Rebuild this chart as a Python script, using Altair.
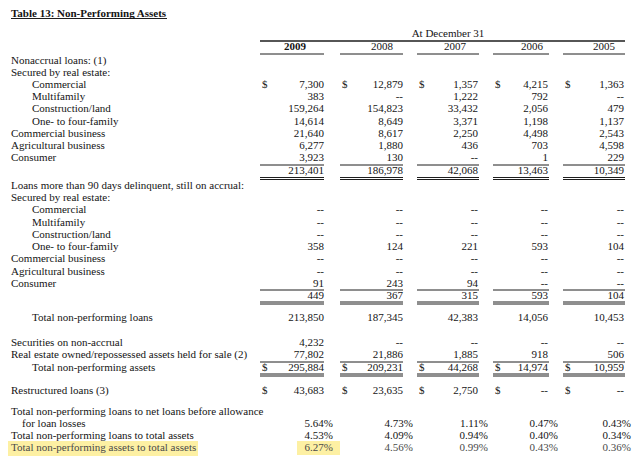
import altair as alt
import pandas as pd

# ---------------- data ----------------
title_text = "Table 13:  Non-Performing Assets"
header_text = "At December 31"
years = ["2009", "2008", "2007", "2006", "2005"]

row_labels = [
    "Nonaccrual loans: (1)",
    "Secured by real estate:",
    "Commercial",
    "Multifamily",
    "Construction/land",
    "One- to four-family",
    "Commercial business",
    "Agricultural business",
    "Consumer",
    "Loans more than 90 days delinquent, still on accrual:",
    "Secured by real estate:",
    "Commercial",
    "Multifamily",
    "Construction/land",
    "One- to four-family",
    "Commercial business",
    "Agricultural business",
    "Consumer",
    "Total non-performing loans",
    "Securities on non-accrual",
    "Real estate owned/repossessed assets held for sale (2)",
    "Total non-performing assets",
    "Restructured loans (3)",
    "Total non-performing loans to net loans before allowance",
    "for loan losses",
    "Total non-performing loans to total assets",
    "Total non-performing assets to total assets",
]

# None = "--"
amt_2009 = [7300, 383, 159264, 14614, 21640, 6277, 3923, 213401,
            None, None, None, 358, None, None, 91, 449,
            213850, 4232, 77802, 295884, 43683]
amt_2008 = [12879, None, 154823, 8649, 8617, 1880, 130, 186978,
            None, None, None, 124, None, None, 243, 367,
            187345, None, 21886, 209231, 23635]
amt_2007 = [1357, 1222, 33432, 3371, 2250, 436, None, 42068,
            None, None, None, 221, None, None, 94, 315,
            42383, None, 1885, 44268, 2750]
amt_2006 = [4215, 792, 2056, 1198, 4498, 703, 1, 13463,
            None, None, None, 593, None, None, None, 593,
            14056, None, 918, 14974, None]
amt_2005 = [1363, None, 479, 1137, 2543, 4598, 229, 10349,
            None, None, None, 104, None, None, None, 104,
            10453, None, 506, 10959, None]

pct_2009 = [5.64, 4.53, 6.27]
pct_2008 = [4.73, 4.09, 4.56]
pct_2007 = [1.11, 0.94, 0.99]
pct_2006 = [0.47, 0.40, 0.43]
pct_2005 = [0.43, 0.34, 0.36]

amounts = [amt_2009, amt_2008, amt_2007, amt_2006, amt_2005]
pcts = [pct_2009, pct_2008, pct_2007, pct_2006, pct_2005]

# ---------------- layout ----------------
label_x = [11, 11, 32, 32, 32, 32, 11, 11, 11,
           11, 11, 32, 32, 32, 32, 11, 11, 11,
           32, 11, 11, 32, 11, 11, 22, 11, 11]
label_y = [61, 73, 85, 97, 109, 122, 134, 146, 158,
           186, 198, 210, 223, 235, 247, 259, 272, 284,
           318, 343, 355, 368, 391, 412, 424, 436, 448]
amt_y = [85, 97, 109, 122, 134, 146, 158, 171,
         210, 223, 235, 247, 259, 272, 284, 296,
         318, 343, 355, 368, 391]
pct_y = [424, 436, 448]
dollar_rows = [0, 19, 20]

col_right = [324, 403, 478, 548, 624]
col_dollar = [262, 342, 419, 495, 565]
pct_right = [333, 413, 488, 558, 631]
year_center = [295, 382, 455, 532, 604]
seg = [(260, 324), (340, 403), (417, 479), (493, 549), (563, 625)]

FONT = "Liberation Serif"
FS = 11
INK = "#141414"

def fmt_amt(v):
    return "--" if v is None else f"{v:,}"

# build frames
labels_df = pd.DataFrame({"x": label_x, "y": label_y, "t": row_labels})
labels_df["c"] = [INK] * (len(row_labels) - 1) + ["#4a4a4a"]

num_rows = []
for ci, col in enumerate(amounts):
    for ri, v in enumerate(col):
        num_rows.append({"x": col_right[ci], "y": amt_y[ri], "t": fmt_amt(v), "c": INK})
for ci, col in enumerate(pcts):
    for ri, v in enumerate(col):
        num_rows.append({"x": pct_right[ci], "y": pct_y[ri], "t": f"{v:.2f}%",
                         "c": "#4a4a4a" if ri == 2 else INK})
nums_df = pd.DataFrame(num_rows)

dollar_df = pd.DataFrame([{"x": col_dollar[ci], "y": amt_y[r], "t": "$"}
                          for r in dollar_rows for ci in range(5)])

years_df = pd.DataFrame({"x": year_center[1:], "y": [47] * 4, "t": years[1:]})
year_bold_df = pd.DataFrame({"x": [year_center[0]], "y": [47], "t": [years[0]]})
header_df = pd.DataFrame({"x": [448], "y": [34], "t": [header_text]})
title_df = pd.DataFrame({"x": [11], "y": [14], "t": [title_text]})

rules = [{"x": 11, "x2": 167, "y": 18.5, "w": 1},
         {"x": 260, "x2": 625, "y": 41, "w": 1.5}]
for a, b in seg:
    for yy in (54, 165, 177.5, 179.5, 290, 302, 304, 362, 374, 376):
        rules.append({"x": a, "x2": b, "y": yy, "w": 1})
rules_df = pd.DataFrame(rules)

hl_df = pd.DataFrame({"x": [6, 297], "x2": [198, 340], "y": [441, 441], "y2": [456, 455]})

# ---------------- chart ----------------
W, H = 624, 448
xs = alt.Scale(domain=[8, 632], nice=False, zero=False)
ys = alt.Scale(domain=[8, 456], nice=False, zero=False, reverse=True)
X = alt.X("x:Q", scale=xs, axis=None)
Y = alt.Y("y:Q", scale=ys, axis=None)

hl = alt.Chart(hl_df).mark_rect(color="#fdf0a3").encode(
    x=X, x2="x2:Q", y=Y, y2="y2:Q")

rl = alt.Chart(rules_df).mark_rule(color="#1e1e1e").encode(
    x=X, x2="x2:Q", y=Y, size=alt.Size("w:Q", scale=None, legend=None))

def txt(df, align, weight="normal", colored=False):
    m = alt.Chart(df).mark_text(align=align, baseline="middle", font=FONT,
                                fontSize=FS, fontWeight=weight, color=INK)
    enc = dict(x=X, y=Y, text="t:N")
    if colored:
        enc["color"] = alt.Color("c:N", scale=None, legend=None)
    return m.encode(**enc)

chart = alt.layer(
    hl,
    rl,
    txt(title_df, "left", "bold"),
    txt(header_df, "center"),
    txt(years_df, "center"),
    txt(year_bold_df, "center", "bold"),
    txt(labels_df, "left", colored=True),
    txt(nums_df, "right", colored=True),
    txt(dollar_df, "left"),
).properties(
    width=W, height=H, padding=0, autosize=alt.AutoSizeParams(type="none"),
    background="white"
).configure_view(stroke=None)

chart.save("out.html", embed_options={"renderer": "svg", "actions": False})
